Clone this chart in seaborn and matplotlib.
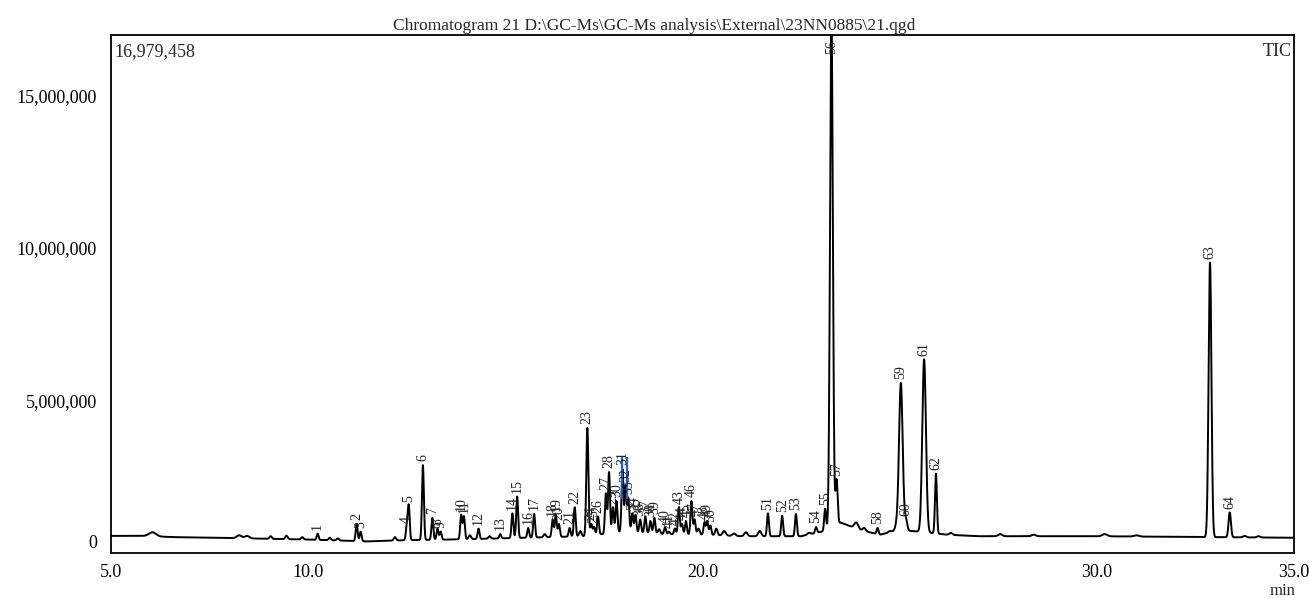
import numpy as np
import pandas as pd
import matplotlib
matplotlib.use("Agg")
import matplotlib.pyplot as plt
import matplotlib.transforms as mtransforms
from matplotlib.ticker import MultipleLocator, FixedLocator, FuncFormatter
import seaborn as sns

# --- data ---
title = "Chromatogram 21 D:\\GC-Ms\\GC-Ms analysis\\External\\23NN0885\\21.qgd"
y_max = 16979458

# numbered peaks: retention time (min), apex height (counts, millions), width (min)
peak_no = list(range(1, 65))
peak_rt = [10.24, 11.23, 11.33, 12.50, 12.55, 12.91, 13.15, 13.28, 13.36, 13.88,
           13.95, 14.32, 14.87, 15.18, 15.30, 15.58, 15.73, 16.20, 16.28, 16.36,
           16.63, 16.76, 17.08, 17.18, 17.25, 17.35, 17.55, 17.63, 17.73, 17.82,
           17.97, 18.05, 18.12, 18.22, 18.30, 18.42, 18.55, 18.68, 18.78, 19.05,
           19.15, 19.30, 19.40, 19.48, 19.58, 19.72, 19.80, 20.05, 20.12, 20.20,
           21.66, 22.02, 22.37, 22.88, 23.11, 23.27, 23.40, 24.44, 25.03, 25.16,
           25.62, 25.92, 32.87, 33.37]
peak_height = [0.63, 0.95, 0.70, 0.85, 1.55, 2.88, 1.15, 0.80, 0.70, 1.25,
               1.20, 0.80, 0.62, 1.30, 1.85, 0.82, 1.28, 1.10, 1.25, 0.95,
               0.82, 1.50, 4.10, 0.95, 0.85, 1.20, 1.95, 2.65, 1.50, 1.70,
               2.75, 2.20, 1.80, 1.30, 1.25, 1.10, 1.20, 1.05, 1.15, 0.85,
               0.70, 0.80, 1.50, 0.95, 1.05, 1.70, 1.10, 1.00, 1.05, 0.90,
               1.30, 1.22, 1.28, 0.85, 1.45, 17.5, 2.40, 0.82, 5.57, 1.10,
               6.35, 2.60, 9.52, 1.33]
peak_width = [0.024] * 22 + [0.026] + [0.024] * 32 + [0.036, 0.027, 0.024, 0.046,
              0.032, 0.046, 0.024, 0.036, 0.030]

# small unnumbered peaks
minor_rt = [6.05, 8.25, 8.45, 9.05, 9.45, 9.85, 10.55, 10.75, 12.20, 14.10,
            14.60, 16.00, 16.90, 18.90, 19.90, 20.35, 20.55, 20.80, 21.10, 21.45,
            22.70, 23.90, 24.10, 24.75, 24.92, 26.30, 27.55, 28.40, 30.20, 31.00,
            33.75, 34.10]
minor_height = [0.68, 0.58, 0.56, 0.55, 0.57, 0.52, 0.50, 0.48, 0.52, 0.58,
                0.55, 0.62, 0.72, 0.78, 0.80, 0.80, 0.72, 0.64, 0.68, 0.72,
                0.66, 1.00, 0.82, 0.72, 0.90, 0.66, 0.62, 0.60, 0.62, 0.58,
                0.56, 0.55]
minor_width = [0.09, 0.06, 0.06, 0.03, 0.03, 0.03, 0.03, 0.03, 0.03, 0.03,
               0.03, 0.03, 0.03, 0.03, 0.03, 0.03, 0.04, 0.04, 0.04, 0.04,
               0.04, 0.05, 0.04, 0.04, 0.04, 0.04, 0.05, 0.05, 0.06, 0.06,
               0.04, 0.04]

# baseline drift (counts, millions)
base_t = [5.0, 5.8, 6.6, 8.0, 10.0, 11.5, 12.5, 14.0, 15.5, 17.0, 18.0, 19.0,
          20.0, 21.0, 22.5, 23.2, 23.5, 24.0, 24.5, 25.0, 25.5, 26.2, 27.0,
          30.0, 35.0]
base_val = [0.56, 0.56, 0.52, 0.49, 0.44, 0.38, 0.42, 0.45, 0.50, 0.55, 0.70,
            0.62, 0.60, 0.55, 0.55, 0.75, 1.00, 0.75, 0.60, 0.75, 0.70, 0.60,
            0.55, 0.55, 0.50]

# blue marker lines around peaks 31/32 (min, millions)
marker_rt = [17.96, 18.08]
marker_lo, marker_hi = 1.77, 3.16

# --- build trace ---
t = np.linspace(5.0, 35.0, 6001)
base = np.interp(t, base_t, base_val)
signal = base.copy()
for rt, h, w in zip(peak_rt + minor_rt, peak_height + minor_height, peak_width + minor_width):
    amp = max(h - np.interp(rt, base_t, base_val), 0.0)
    signal += amp * np.exp(-0.5 * ((t - rt) / w) ** 2)
df = pd.DataFrame({"time": t, "intensity": signal * 1e6})

# --- plot ---
sns.set_style("white")
plt.rcParams["font.family"] = ["Liberation Serif", "DejaVu Serif"]

fig = plt.figure(figsize=(13.09, 5.99), dpi=100)
ax = fig.add_axes([111 / 1309, 1 - 553 / 599, (1294 - 111) / 1309, (553 - 35) / 599])

sns.lineplot(data=df, x="time", y="intensity", ax=ax, color="black", linewidth=1.4,
             estimator=None, sort=False)
ax.vlines(marker_rt, marker_lo * 1e6, marker_hi * 1e6, color="#1f5fd0", linewidth=1.6)

for no, rt, h in zip(peak_no, peak_rt, peak_height):
    ytxt = min(h * 1e6, 16.25e6) + 0.12e6
    ax.text(rt, ytxt, str(no), rotation=90, ha="center", va="bottom",
            fontsize=10, color="#222222", clip_on=True)

ax.set_xlim(5.0, 35.0)
ax.set_ylim(0, y_max)
ax.xaxis.set_major_locator(FixedLocator([5.0, 10.0, 20.0, 30.0, 35.0]))
ax.xaxis.set_minor_locator(MultipleLocator(1.0))
ax.xaxis.set_major_formatter(FuncFormatter(lambda v, p: f"{v:.1f}"))
ax.yaxis.set_major_locator(FixedLocator([0, 5e6, 10e6, 15e6]))
ax.yaxis.set_minor_locator(MultipleLocator(1e6))
ax.yaxis.set_major_formatter(FuncFormatter(lambda v, p: f"{int(v):,}"))
ax.tick_params(axis="both", which="major", direction="out", length=7, width=1.2,
               labelsize=13, colors="black", pad=3)
ax.tick_params(axis="both", which="minor", direction="out", length=5, width=1.0)
ax.tick_params(axis="x", which="major", pad=1)
ax.set_xlabel("")
ax.set_ylabel("")
for s in ax.spines.values():
    s.set_color("black")
    s.set_linewidth(1.3)

# lift the "0" label as in the instrument print-out
for lbl in ax.get_yticklabels():
    if lbl.get_text() == "0":
        lbl.set_transform(lbl.get_transform() + mtransforms.ScaledTranslation(0, 12 / 100, fig.dpi_scale_trans))

ax.text(0.003, 0.985, f"{y_max:,}", transform=ax.transAxes, ha="left", va="top", fontsize=13)
ax.text(0.998, 0.985, "TIC", transform=ax.transAxes, ha="right", va="top", fontsize=13)
fig.text(0.5, 1 - 26 / 599, title, ha="center", va="center", fontsize=12.5)
fig.text(1283 / 1309, 1 - 591 / 599, "min", ha="center", va="center", fontsize=12)

fig.savefig("out.png", dpi=100)
